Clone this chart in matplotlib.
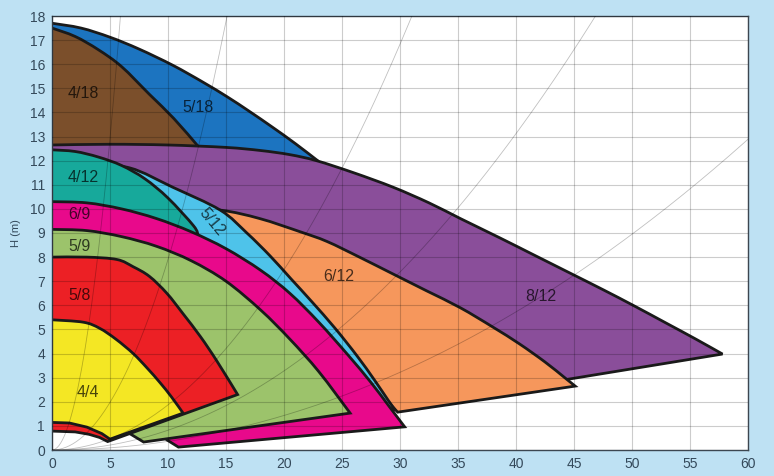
import numpy as np
import matplotlib
matplotlib.use("Agg")
import matplotlib.pyplot as plt
from matplotlib.path import Path
from matplotlib.patches import PathPatch

plt.rcParams['font.family'] = ['Liberation Sans Narrow', 'Liberation Sans', 'DejaVu Sans']

# pump curves, Q (x) and H (y)
# *_top = max speed curve, *_bot = tip line + min speed curve (+ hidden part)
q_518_top = [0, 2.5, 5, 7.5, 10.4, 13, 15.1, 17, 19, 21, 22.9]
h_518_top = [17.7, 17.5, 17.12, 16.63, 15.96, 15.26, 14.65, 14.05, 13.39, 12.7, 12.0]
q_518_bot = [22.0, 0]
h_518_bot = [11.0, 11.0]

q_418_top = [0, 2, 4, 6, 8.4, 10.5, 12.5]
h_418_top = [17.5, 17.15, 16.6, 15.9, 14.75, 13.75, 12.65]
q_418_bot = [12.0, 0]
h_418_bot = [12.0, 12.0]

q_812_top = [0, 5, 10, 15, 18, 20.5, 22.8, 26, 29.4, 32.5, 35.2, 38.6, 41.5, 44.4, 47.5, 50.1, 53, 55.5, 57.8]
h_812_top = [12.65, 12.68, 12.65, 12.55, 12.42, 12.25, 12.0, 11.5, 10.9, 10.25, 9.6, 8.8, 8.1, 7.4, 6.65, 6.0, 5.25, 4.6, 3.98]
q_812_bot = [44.3, 40, 30, 15, 0]
h_812_bot = [2.92, 3.5, 5.0, 5.0, 5.0]

q_612_top = [0, 5, 10, 14.5, 17.9, 21.4, 23.7, 26.5, 29.4, 32.3, 35.2, 38, 40.3, 42.5, 44.2, 45.1]
h_612_top = [10.25, 10.2, 10.1, 9.95, 9.6, 9.05, 8.65, 8.0, 7.3, 6.6, 5.9, 5.1, 4.4, 3.65, 3.0, 2.65]
q_612_bot = [29.8, 27, 15, 0]
h_612_bot = [1.57, 3.0, 5.0, 5.0]

q_512_top = [0, 3, 6.7, 10.4, 14.5, 16.8, 18.8, 20.6, 22.4, 24.4, 26.3, 27.8, 29.0, 29.6]
h_512_top = [11.9, 11.85, 11.7, 10.9, 9.95, 9.0, 8.05, 7.1, 6.15, 5.05, 3.9, 2.9, 2.05, 1.65]
q_512_bot = [28, 15, 0]
h_512_bot = [1.9, 5.0, 5.0]

q_412_top = [0, 2, 4, 6, 8, 10, 12.2, 12.6]
h_412_top = [12.45, 12.38, 12.15, 11.8, 11.25, 10.45, 9.3, 8.9]
q_412_bot = [10, 0]
h_412_bot = [8.5, 8.5]

q_69_top = [0, 3, 6, 9, 12, 15, 18, 20.5, 23, 25.5, 27.5, 29, 30.4]
h_69_top = [10.3, 10.25, 10.0, 9.6, 9.05, 8.35, 7.45, 6.5, 5.3, 3.95, 2.8, 1.85, 0.96]
q_69_bot = [10.9, 9.9, 8, 0]
h_69_bot = [0.12, 0.42, 1.5, 1.5]

q_59_top = [0, 3, 6, 9, 12, 15, 18, 20.5, 23, 25.7]
h_59_top = [9.15, 9.1, 8.85, 8.45, 7.85, 7.0, 5.8, 4.6, 3.25, 1.53]
q_59_bot = [7.9, 6.7, 6.0, 5.5, 0]
h_59_bot = [0.33, 0.68, 0.75, 1.5, 1.5]

q_58_top = [0, 3, 5.6, 7, 8.4, 9.9, 11.3, 12.8, 14.2, 16.0]
h_58_top = [8.0, 8.0, 7.9, 7.6, 7.2, 6.5, 5.65, 4.7, 3.7, 2.3]
q_58_bot = [4.8, 4.1, 3.2, 2, 0]
h_58_bot = [0.35, 0.52, 0.65, 0.75, 0.8]

q_44_top = [0, 2.7, 4.1, 5.5, 7.0, 8.2, 9.3, 10.3, 11.3]
h_44_top = [5.4, 5.3, 5.05, 4.6, 4.0, 3.4, 2.8, 2.2, 1.53]
q_44_bot = [5.0, 4.3, 3, 1.5, 0]
h_44_bot = [0.45, 0.68, 0.95, 1.12, 1.16]

# system curves H = k*Q^2
k_sys = [0.517, 0.079, 0.0187, 0.0082, 0.00358]

pumps = [
    ('5/18', q_518_top, h_518_top, q_518_bot, h_518_bot, '#1c74c0', (12.6, 14.2), 0),
    ('4/18', q_418_top, h_418_top, q_418_bot, h_418_bot, '#7b4f2b', (2.7, 14.8), 0),
    ('8/12', q_812_top, h_812_top, q_812_bot, h_812_bot, '#8a4e9a', (42.1, 6.35), 0),
    ('6/12', q_612_top, h_612_top, q_612_bot, h_612_bot, '#f6975c', (24.7, 7.2), 0),
    ('5/12', q_512_top, h_512_top, q_512_bot, h_512_bot, '#4ec3ea', (13.8, 9.45), -50),
    ('4/12', q_412_top, h_412_top, q_412_bot, h_412_bot, '#17a99b', (2.7, 11.3), 0),
    ('6/9', q_69_top, h_69_top, q_69_bot, h_69_bot, '#e8098b', (2.4, 9.75), 0),
    ('5/9', q_59_top, h_59_top, q_59_bot, h_59_bot, '#9cc36b', (2.4, 8.45), 0),
    ('5/8', q_58_top, h_58_top, q_58_bot, h_58_bot, '#ec2025', (2.4, 6.4), 0),
    ('4/4', q_44_top, h_44_top, q_44_bot, h_44_bot, '#f4e724', (3.1, 2.4), 0),
]


def pump_path(qt, ht, qb, hb):
    # smooth top curve (catmull-rom as cubic bezier), straight tip line, then back
    P = np.column_stack([qt, ht]).astype(float)
    n = len(P)
    verts = [(-1, P[0, 1]), P[0]]
    codes = [Path.MOVETO, Path.LINETO]
    for i in range(n - 1):
        p0 = P[i - 1] if i > 0 else P[i]
        p3 = P[i + 2] if i + 2 < n else P[i + 1]
        verts += [P[i] + (P[i + 1] - p0) / 6, P[i + 1] - (p3 - P[i]) / 6, P[i + 1]]
        codes += [Path.CURVE4] * 3
    for q, h in zip(qb, hb):
        verts.append((-1 if q == 0 else q, h))
        codes.append(Path.LINETO)
    verts.append((-1, P[0, 1]))
    codes.append(Path.CLOSEPOLY)
    return Path(verts, codes)


fig = plt.figure(figsize=(7.74, 4.76), dpi=100)
fig.patch.set_facecolor('#bee1f3')
ax = fig.add_axes([52/774, 26/476, 696/774, 434/476])
ax.set_facecolor('white')

for name, qt, ht, qb, hb, col, pos, rot in pumps:
    patch = PathPatch(pump_path(qt, ht, qb, hb), facecolor=col, edgecolor='#1a1a1a',
                      linewidth=2.0, joinstyle='miter', zorder=1)
    ax.add_patch(patch)
    ax.text(pos[0], pos[1], name, fontsize=11.5, color='black', alpha=0.7,
            ha='center', va='center', rotation=rot, zorder=4)

qs = np.linspace(0, 60, 400)
for k in k_sys:
    ax.plot(qs, k * qs**2, color='black', alpha=0.25, linewidth=0.6, zorder=3)

ax.set_xlim(0, 60)
ax.set_ylim(0, 18)
ax.set_xticks(np.arange(0, 61, 5))
ax.set_yticks(np.arange(0, 19, 1))
ax.set_axisbelow(False)
ax.grid(True, color='black', alpha=0.2, linewidth=0.8)
ax.tick_params(length=0, pad=5, labelsize=10, labelcolor='#34495a')
for s in ax.spines.values():
    s.set_color('#3c4650')
    s.set_linewidth(1.0)
ax.set_ylabel('H (m)', fontsize=8, color='#34495a', labelpad=6)

fig.savefig('out.png', dpi=100, facecolor=fig.get_facecolor())
